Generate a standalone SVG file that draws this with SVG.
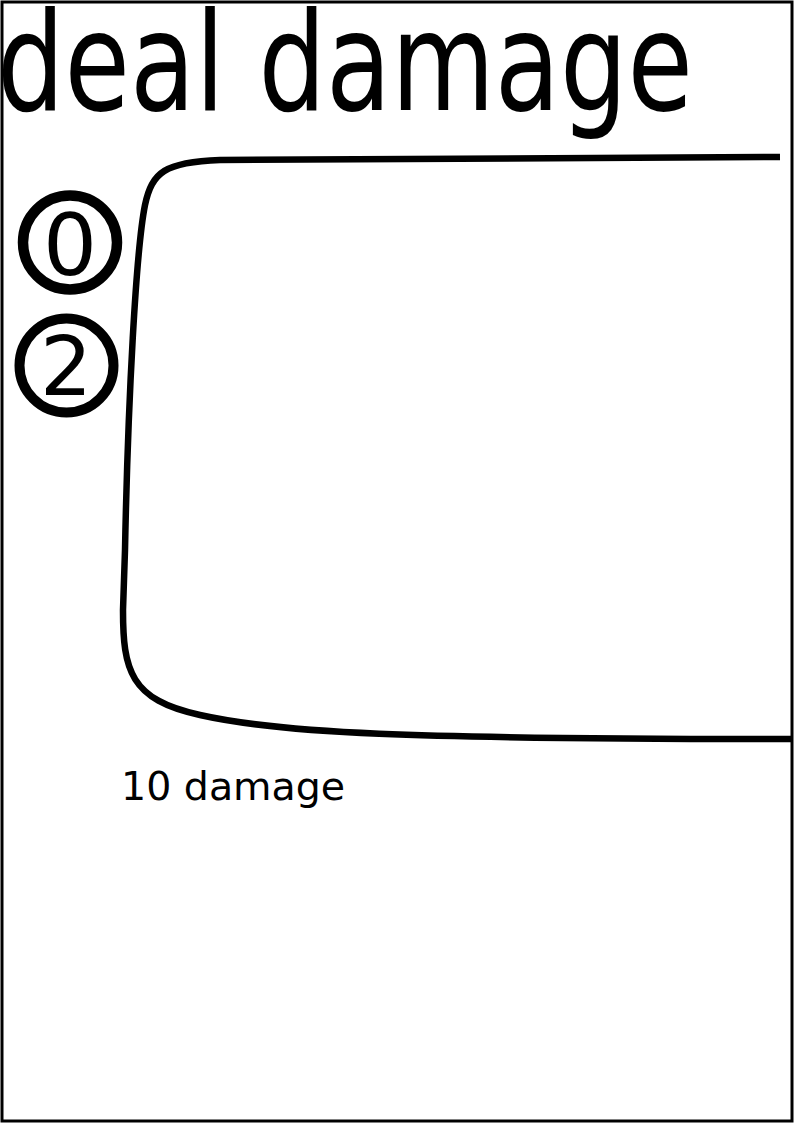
<svg xmlns="http://www.w3.org/2000/svg" width="794" height="1123" viewBox="0 0 794 1123">
<style>
text{font-family:"DejaVu Sans",sans-serif;fill:#000}
.ring{fill:none;stroke:#000}
</style>
<rect x="0" y="0" width="794" height="1123" fill="#fff"/>
<rect id="card" x="2" y="2" width="790" height="1119" fill="none" stroke="#000" stroke-width="3"/>
<g id="title"><text x="-3" y="110" font-size="138" textLength="696" lengthAdjust="spacingAndGlyphs">deal damage</text></g>
<g id="cost0"><circle class="ring" cx="70" cy="242.5" r="47" stroke-width="10.5"/><text x="70" y="275" font-size="85" text-anchor="middle">0</text></g>
<g id="cost2"><circle class="ring" cx="66.5" cy="365.5" r="47" stroke-width="10"/><text x="66" y="395" font-size="82" text-anchor="middle">2</text></g>
<g id="frame"><path d="M 780,157 L 220,160 C 165,162 152,172 145,205 C 136,250 128,400 125,550 L 123,610 C 123,670 130,700 200,715 C 280,733 400,739 792,739" fill="none" stroke="#000" stroke-width="6.5"/></g>
<g id="label"><text x="121" y="800" font-size="39.5">10 damage</text></g>
</svg>
